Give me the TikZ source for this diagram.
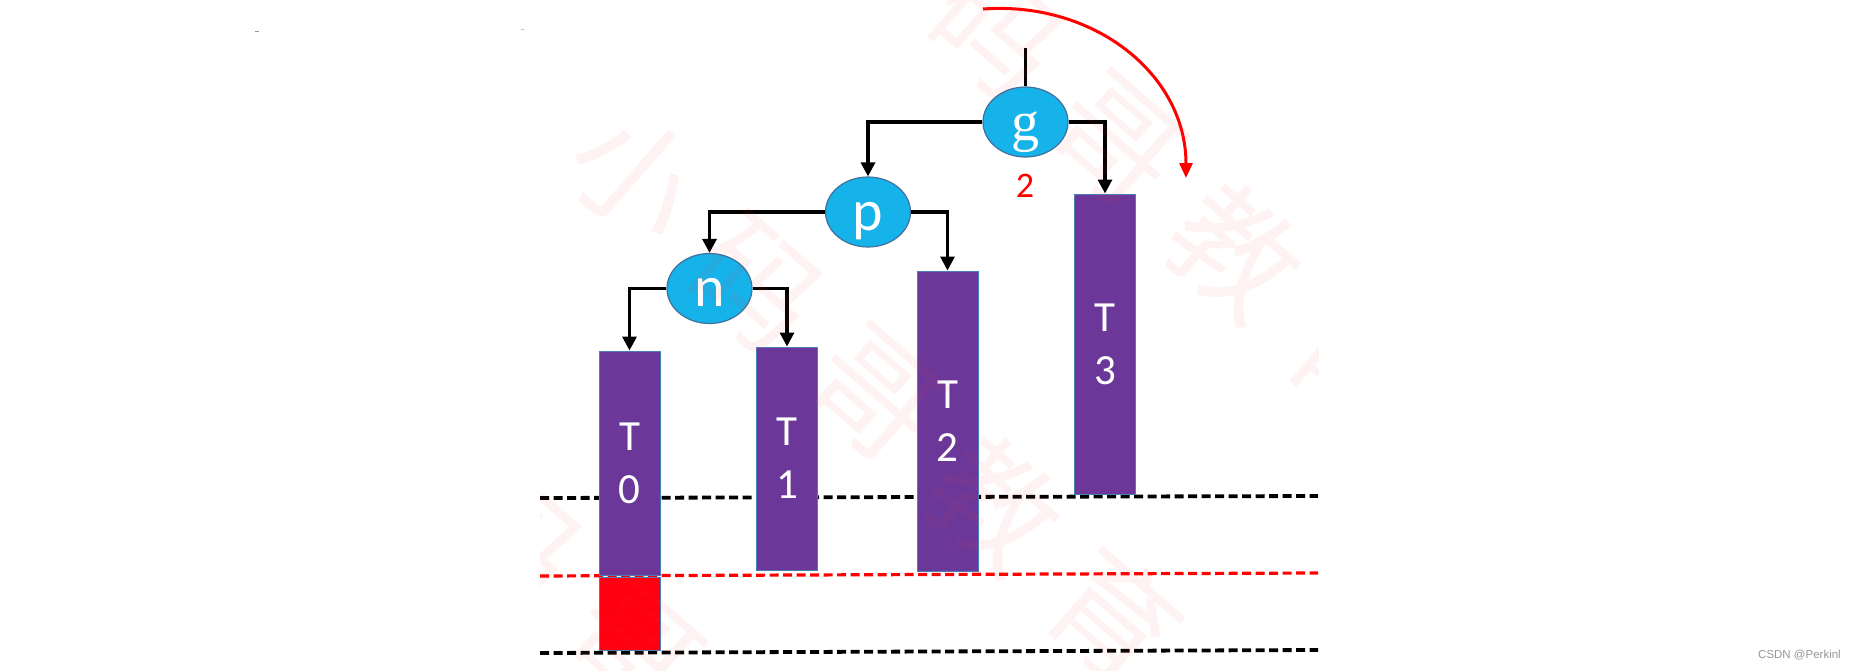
\documentclass[tikz,border=0pt]{standalone}
\usepackage{fontspec}
\setmainfont{Carlito}
\newfontfamily\serifg{Liberation Serif}
\newfontfamily\arialf{Liberation Sans}
\newfontfamily\cjk{Noto Sans CJK SC}
\usetikzlibrary{arrows.meta,shapes.geometric}
\definecolor{nodeblue}{RGB}{22,178,234}
\definecolor{ellblue}{RGB}{65,113,156}
\definecolor{boxpurple}{RGB}{107,56,154}
\definecolor{boxedge}{RGB}{74,126,187}
\definecolor{redbox}{RGB}{255,0,16}
\definecolor{wm}{RGB}{240,60,60}
\definecolor{csdn}{RGB}{150,150,150}
\begin{document}
\begin{tikzpicture}[x=1pt,y=-1pt,
  ell/.style={ellipse, draw=ellblue, fill=nodeblue, line width=1.2pt,
    minimum width=85pt, minimum height=70pt, inner sep=0pt, text=white,
    text height=36pt, text depth=0pt, font=\fontsize{58}{60}\selectfont},
  tbox/.style={rectangle, draw=boxedge, fill=boxpurple, line width=1pt,
    minimum width=61pt, inner sep=0pt, text=white, align=center,
    font=\fontsize{43}{53}\selectfont},
  arr/.style={line width=3.2pt, -{Triangle[length=14pt,width=14pt]}},
  plainline/.style={line width=3.2pt},
  dline/.style={line width=3.8pt, dash pattern=on 9pt off 4.5pt},
  rdline/.style={line width=3.2pt, red, dash pattern=on 9pt off 4.5pt},
  wmchar/.style={text=wm, opacity=0.065, rotate=-41, inner sep=0pt,
    font=\cjk\fontsize{125}{125}\selectfont},
]
\useasboundingbox (0,0) rectangle (1862,670);

% dashed level lines
\coordinate (d1l) at (540,498); \coordinate (d1r) at (1318,496);
\coordinate (d2l) at (540,576); \coordinate (d2r) at (1318,573);
\coordinate (d3l) at (540,653); \coordinate (d3r) at (1318,650);
\draw[dline] (d1l) -- (d1r);
\draw[rdline] (d2l) -- (d2r);
\draw[dline] (d3l) -- (d3r);

% subtrees
\node[tbox, minimum height=224pt] (T0) at (629.5,463) {T\\0};
\node[tbox, minimum height=73pt, fill=redbox] (R0) at (629.5,613.5) {};
\node[tbox, minimum height=223pt] (T1) at (787,458.5) {T\\1};
\node[tbox, minimum height=300pt] (T2) at (947.5,421) {T\\2};
\node[tbox, minimum height=300pt] (T3) at (1105,344) {T\\3};

% tree nodes
\node[ell, font=\serifg\fontsize{56}{58}\selectfont] (g) at (1025.5,122) {g};
\node[ell] (p) at (868,212) {p};
\node[ell] (n) at (709.5,288.5) {n};
\node[text=red, font=\fontsize{36}{38}\selectfont] (lab2) at (1025,186) {2};

% connectors
\coordinate (gtop) at (1025.5,48);
\draw[plainline] (gtop) -- (g.north);
\draw[arr] (g.west) -| (p.north);
\draw[arr] (g.east) -| (T3.north);
\draw[arr] (p.west) -| (n.north);
\draw[arr] (p.east) -| (T2.north);
\draw[arr] (n.west) -| (T0.north);
\draw[arr] (n.east) -| (T1.north);

% red rotation arc
\coordinate (arcs) at (983,9);
\coordinate (arce) at (1186,178);
\draw[red, line width=3pt, -{Triangle[length=15pt,width=13pt]}]
  (arcs) .. controls (1095,1) and (1186,75) .. (arce);

% watermark
\begin{scope}
\clip (540,0) rectangle (1318,670);
\foreach \dx/\dy in {0/0, 241/-253, -241/253}{
  \node[wmchar] (wa) at (635+\dx,175+\dy) {小};
  \node[wmchar] (wb) at (755+\dx,285+\dy) {码};
  \node[wmchar] (wc) at (875+\dx,395+\dy) {哥};
  \node[wmchar] (wd) at (995+\dx,505+\dy) {教};
  \node[wmchar] (we) at (1115+\dx,615+\dy) {育};
}
\end{scope}

% tiny marks
\coordinate (m1a) at (255,31); \coordinate (m1b) at (259,31);
\coordinate (m2a) at (521,29); \coordinate (m2b) at (524,29);
\draw[csdn, line width=1pt] (m1a) -- (m1b);
\draw[csdn!60, line width=1pt] (m2a) -- (m2b);

% credit
\node[anchor=east, text=csdn, inner sep=0pt, font=\arialf\fontsize{11.5}{13}\selectfont] (credit) at (1841,655) {CSDN @Perkinl};
\end{tikzpicture}
\end{document}
